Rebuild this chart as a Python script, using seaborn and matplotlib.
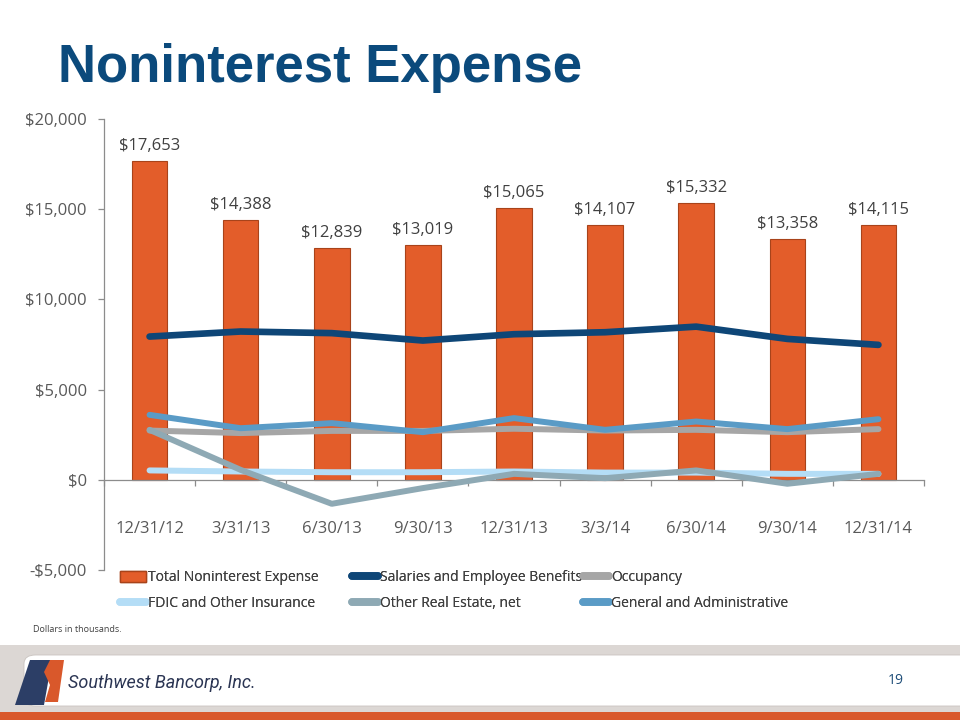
import numpy as np
import pandas as pd
import matplotlib
matplotlib.use("Agg")
import matplotlib.pyplot as plt
import seaborn as sns
from matplotlib.patches import Patch, Rectangle, FancyBboxPatch, Polygon
from matplotlib.lines import Line2D
from matplotlib.ticker import FuncFormatter, FixedLocator

# ---------------- data ----------------
categories = ["12/31/12", "3/31/13", "6/30/13", "9/30/13", "12/31/13",
              "3/3/14", "6/30/14", "9/30/14", "12/31/14"]
total_expense = [17653, 14388, 12839, 13019, 15065, 14107, 15332, 13358, 14115]
salaries = [7940, 8220, 8130, 7720, 8070, 8180, 8490, 7810, 7480]
occupancy = [2730, 2590, 2710, 2710, 2830, 2730, 2770, 2640, 2810]
fdic = [520, 460, 420, 420, 460, 400, 400, 330, 330]
other_real_estate = [2770, 550, -1330, -460, 330, 90, 520, -220, 330]
general_admin = [3600, 2860, 3140, 2640, 3420, 2770, 3230, 2810, 3360]
y_ticks = [-5000, 0, 5000, 10000, 15000, 20000]

series_names = ["Total Noninterest Expense", "Salaries and Employee Benefits",
                "Occupancy", "FDIC and Other Insurance", "Other Real Estate, net",
                "General and Administrative"]

# ---------------- style ----------------
sns.set_theme(style="white")
plt.rcParams['font.family'] = ['Open Sans', 'DejaVu Sans']

BAR = "#E35D2A"
C_SAL = "#0E4677"
C_OCC = "#A6A6A6"
C_FDIC = "#B4DDF6"
C_ORE = "#8EA9B4"
C_GA = "#5A9BC6"
TXT = "#595959"
AXC = "#8C8C8C"

fig = plt.figure(figsize=(9.6, 7.2), dpi=100)
fig.patch.set_facecolor("white")
W, H = 960, 720
ax = fig.add_axes([104 / W, 1 - 570 / H, (924 - 104) / W, (570 - 119) / H])
ax.set_facecolor("white")

df = pd.DataFrame({
    "cat": categories,
    "idx": np.arange(len(categories)),
    "total": total_expense,
    "sal": salaries,
    "occ": occupancy,
    "fdic": fdic,
    "ore": other_real_estate,
    "ga": general_admin,
})

sns.barplot(data=df, x="cat", y="total", color=BAR, width=0.39, ax=ax,
            edgecolor="#A8431A", linewidth=0.8, saturation=1, zorder=2)

line_specs = [("sal", C_SAL, 4.8), ("occ", C_OCC, 4.3), ("fdic", C_FDIC, 4.3),
              ("ore", C_ORE, 4.3), ("ga", C_GA, 4.3)]
for i, (col, c, lw) in enumerate(line_specs):
    sns.lineplot(data=df, x="idx", y=col, color=c, linewidth=lw, ax=ax,
                 solid_capstyle="round", solid_joinstyle="round",
                 zorder=3 + i, legend=False)

# data labels
ax.bar_label(ax.containers[0], labels=[f"${v:,.0f}" for v in total_expense],
             padding=5, fontsize=12, color="#404040")

# axes
ax.set_xlim(-0.5, len(categories) - 0.5)
ax.set_ylim(y_ticks[0], y_ticks[-1])
ax.set_xlabel("")
ax.set_ylabel("")
ax.yaxis.set_major_locator(FixedLocator(y_ticks))
ax.yaxis.set_major_formatter(FuncFormatter(
    lambda v, p: f"-${abs(v):,.0f}" if v < 0 else f"${v:,.0f}"))
for s in ["top", "right"]:
    ax.spines[s].set_visible(False)
ax.spines["left"].set_color(AXC)
ax.spines["left"].set_linewidth(0.9)
ax.spines["bottom"].set_position(("data", 0))
ax.spines["bottom"].set_color(AXC)
ax.spines["bottom"].set_linewidth(0.9)
ax.tick_params(axis="y", direction="out", length=4.5, width=0.9, color=AXC,
               pad=8, labelsize=12, labelcolor=TXT, left=True)
ax.set_xticks(np.arange(len(categories)))
ax.set_xticklabels(categories)
ax.tick_params(axis="x", which="major", length=0, pad=30, labelsize=12,
               labelcolor=TXT)
ax.set_xticks(np.arange(len(categories) + 1) - 0.5, minor=True)
ax.tick_params(axis="x", which="minor", direction="out", length=4.5,
               width=0.9, color=AXC, bottom=True)
ax.grid(False)

# legend: three columns, each a small legend placed at its column
handles = [Patch(facecolor=BAR, edgecolor="#A8431A")]
for col, c, lw in line_specs:
    handles.append(Line2D([], [], color=c, linewidth=5.5, solid_capstyle="round"))
col_groups = [[0, 3], [1, 4], [2, 5]]
col_x = [120, 352, 583]
for grp, cx in zip(col_groups, col_x):
    leg = fig.legend([handles[i] for i in grp], [series_names[i] for i in grp],
                     loc="upper left", bbox_to_anchor=(cx / W, 1 - 570 / H),
                     ncol=1, frameon=False, fontsize=10, handlelength=1.9,
                     handleheight=0.85, handletextpad=0.15,
                     labelspacing=0.8, borderaxespad=0, borderpad=0)
    for t in leg.get_texts():
        t.set_color("#404040")
    fig.add_artist(leg)

# title
fig.text(58 / W, 1 - 82 / H, "Noninterest Expense", fontsize=38,
         fontweight="bold", color="#0B4A7C", family="Liberation Sans",
         va="baseline", ha="left")

# footnote
fig.text(33 / W, 1 - 630 / H, "Dollars in thousands.", fontsize=6.5,
         color="#404040", va="center", ha="left")

# footer decoration
fig.patches.append(Rectangle((0, 1 - 712 / H), 1, 67 / H, transform=fig.transFigure,
                             facecolor="#DCD7D4", edgecolor="none", zorder=0))
fig.patches.append(FancyBboxPatch((24 / W, 1 - 706 / H), 950 / W, 51 / H,
                                  boxstyle="round,pad=0,rounding_size=0.012",
                                  transform=fig.transFigure, facecolor="white",
                                  edgecolor="#C9C3BF", linewidth=0.6, zorder=1))
fig.patches.append(Rectangle((0, 0), 1, 8 / H, transform=fig.transFigure,
                             facecolor="#D9582B", edgecolor="none", zorder=2))
# logo
fig.patches.append(Polygon([(30 / W, 1 - 660 / H), (52 / W, 1 - 660 / H),
                            (44 / W, 1 - 705 / H), (15 / W, 1 - 705 / H)],
                           closed=True, transform=fig.transFigure,
                           facecolor="#2C3E66", edgecolor="none", zorder=3))
fig.patches.append(Polygon([(50 / W, 1 - 660 / H), (64 / W, 1 - 660 / H),
                            (58 / W, 1 - 702 / H), (45 / W, 1 - 702 / H),
                            (50 / W, 1 - 685 / H), (44 / W, 1 - 672 / H)],
                           closed=True, transform=fig.transFigure,
                           facecolor="#D9582B", edgecolor="none", zorder=4))
fig.text(68 / W, 1 - 683 / H, "Southwest Bancorp, Inc.", fontsize=13,
         style="italic", color="#2B3553", family="Roboto", va="center",
         ha="left", zorder=5)
fig.text(896 / W, 1 - 680 / H, "19", fontsize=10, color="#1F4E79",
         va="center", ha="center", zorder=5)

fig.savefig("out.png", dpi=100, facecolor="white")
